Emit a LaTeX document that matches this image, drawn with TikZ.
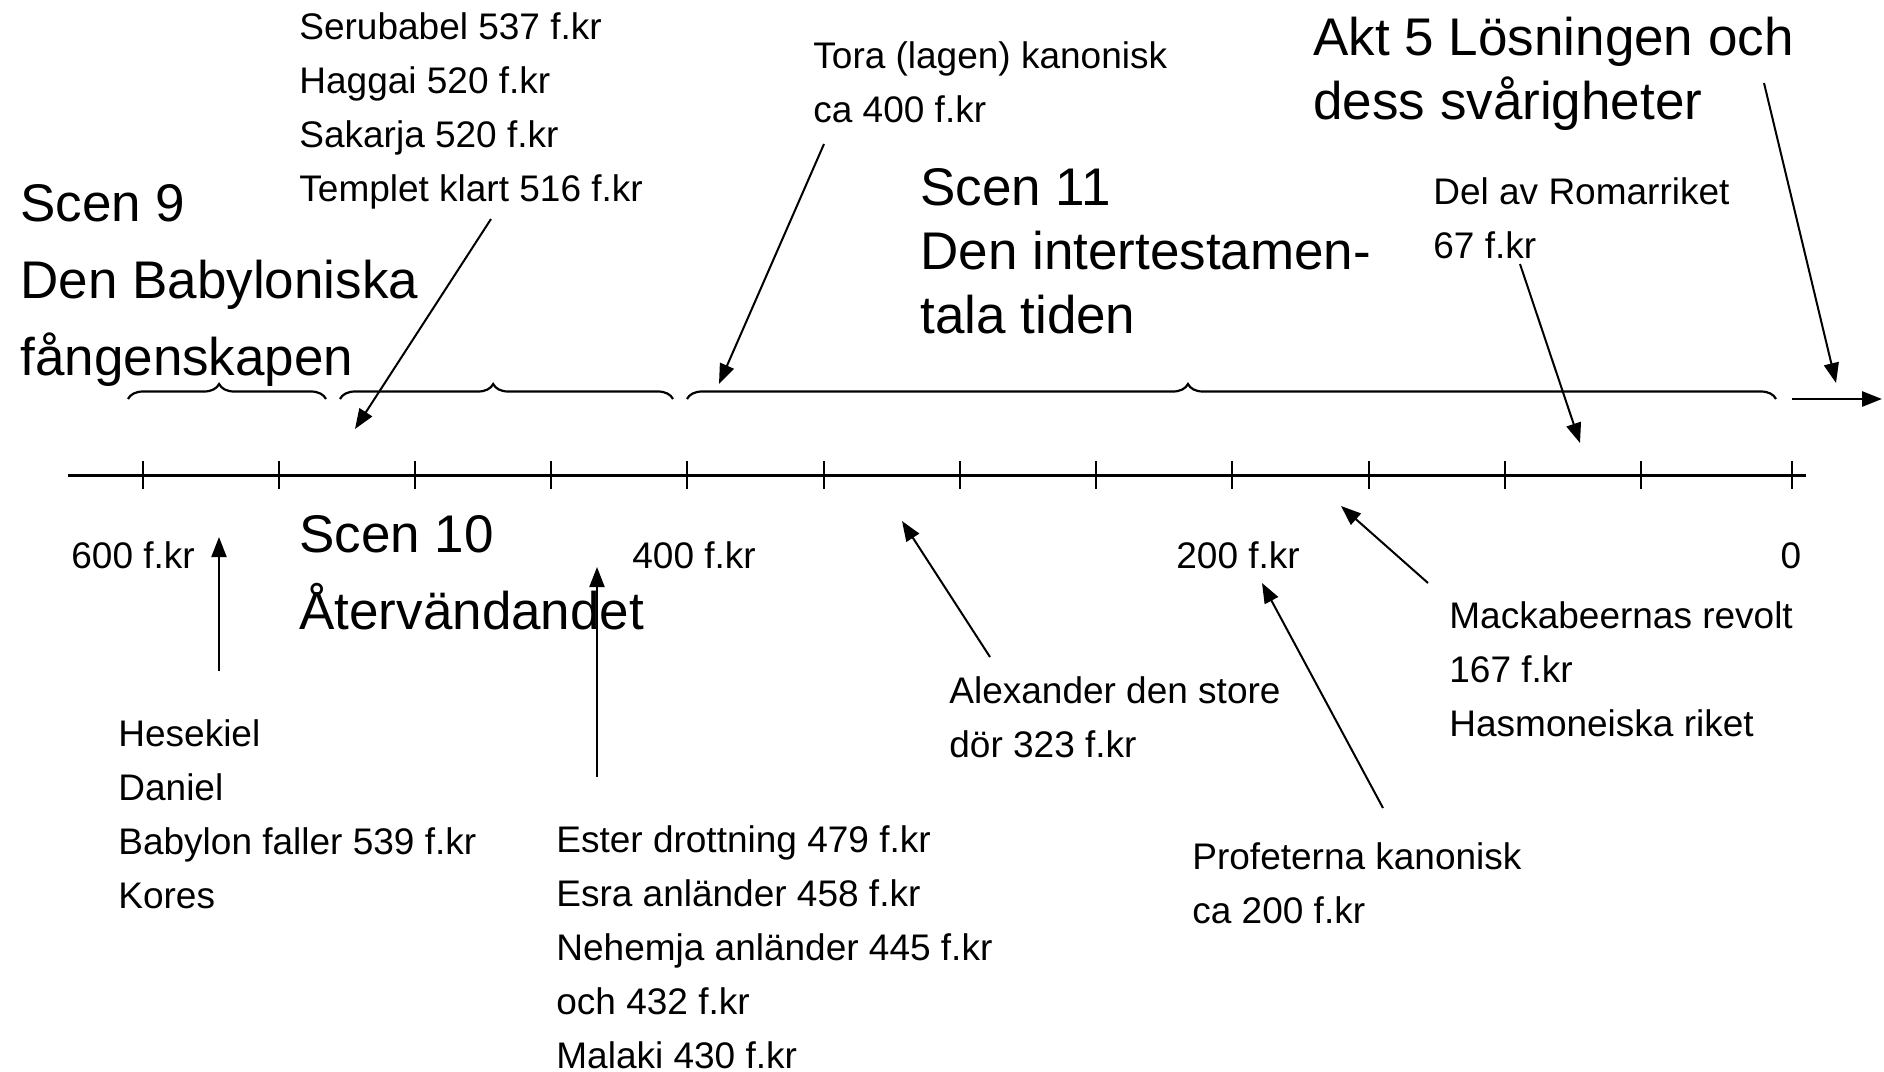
\documentclass[tikz,border=0pt]{standalone}
\usepackage{fontspec}
\setmainfont{Liberation Sans}
\usetikzlibrary{arrows.meta,decorations.pathreplacing}

\begin{document}
\begin{tikzpicture}[x=0.5pt,y=-0.5pt]
\useasboundingbox (0,0) rectangle (1884,1071);
% multi-line nodes: base anchor sits on the last line
\tikzstyle{small}=[font=\fontsize{18.5}{26.9}\selectfont,anchor=base west,align=left,inner sep=0pt]
\tikzstyle{big}=[font=\fontsize{26.5}{38.5}\selectfont,anchor=base west,align=left,inner sep=0pt]
\tikzstyle{bigtight}=[big,font=\fontsize{26.5}{32}\selectfont]
\tikzstyle{pointer}=[-{Triangle[length=10pt,width=7.5pt]},line width=1pt]
\tikzstyle{era}=[decorate,decoration={brace,amplitude=7.5pt,aspect=0.46},line width=1.1pt]

% time line
\coordinate (axL) at (68,475);
\coordinate (axR) at (1806,475);
\draw[line width=1.5pt] (axL) -- (axR);
\foreach \x in {143,279,415,551,687,824,960,1096,1232,1369,1505,1641,1792}
  \draw[line width=1pt] (\x,461) -- (\x,489);

\draw node[small] (y600) at (71,568) {600 f.kr};
\draw node[small] (y400) at (632,568) {400 f.kr};
\draw node[small] (y200) at (1176,568) {200 f.kr};
\draw node[small,anchor=base] (y0) at (1791,568) {0};

% scenes
\draw node[big] (scen9) at (20,375) {Scen 9\\Den Babyloniska\\fångenskapen};
\draw node[big] (scen10) at (299,629) {Scen 10\\Återvändandet};
\draw node[bigtight] (scen11) at (920,333) {Scen 11\\Den intertestamen-\\tala tiden};
\draw node[bigtight] (akt5) at (1313,119) {Akt 5 Lösningen och\\dess svårigheter};

\coordinate (b1L) at (128,399);  \coordinate (b1R) at (326,399);
\coordinate (b2L) at (340,399);  \coordinate (b2R) at (673,399);
\coordinate (b3L) at (687,399);  \coordinate (b3R) at (1776,399);
\draw[era] (b1L) -- (b1R);
\draw[era] (b2L) -- (b2R);
\draw[era] (b3L) -- (b3R);

% events
\draw node[small] (serub) at (299,201) {Serubabel 537 f.kr\\Haggai 520 f.kr\\Sakarja 520 f.kr\\Templet klart 516 f.kr};
\draw node[small] (tora) at (813,122) {Tora (lagen) kanonisk\\ca 400 f.kr};
\draw node[small] (rom) at (1433,258) {Del av Romarriket\\67 f.kr};
\draw node[small] (hes) at (118,908) {Hesekiel\\Daniel\\Babylon faller 539 f.kr\\Kores};
\draw node[small] (ester) at (556,1068) {Ester drottning 479 f.kr\\Esra anländer 458 f.kr\\Nehemja anländer 445 f.kr\\och 432 f.kr\\Malaki 430 f.kr};
\draw node[small] (alex) at (949,757) {Alexander den store\\dör 323 f.kr};
\draw node[small] (prof) at (1192,923) {Profeterna kanonisk\\ca 200 f.kr};
\draw node[small] (mack) at (1449,736) {Mackabeernas revolt\\167 f.kr\\Hasmoneiska riket};

% pointers
\coordinate (serubFrom) at (491,219);  \coordinate (serubTo) at (355,429);
\coordinate (toraFrom) at (824,144);   \coordinate (toraTo) at (719,384);
\coordinate (romFrom) at (1520,264);   \coordinate (romTo) at (1580,443);
\coordinate (aktFrom) at (1764,83);    \coordinate (aktTo) at (1836,383);
\coordinate (nextFrom) at (1792,399);  \coordinate (nextTo) at (1882,399);
\coordinate (hesFrom) at (219,671);    \coordinate (hesTo) at (219,537);
\coordinate (esterFrom) at (597,777);  \coordinate (esterTo) at (597,567);
\coordinate (alexFrom) at (990,657);   \coordinate (alexTo) at (902,521);
\coordinate (profFrom) at (1383,808);  \coordinate (profTo) at (1262,583);
\coordinate (mackFrom) at (1428,583);  \coordinate (mackTo) at (1341,506);
\draw[pointer] (serubFrom) -- (serubTo);
\draw[pointer] (toraFrom) -- (toraTo);
\draw[pointer] (romFrom) -- (romTo);
\draw[pointer] (aktFrom) -- (aktTo);
\draw[pointer,line width=1.4pt] (nextFrom) -- (nextTo);
\draw[pointer] (hesFrom) -- (hesTo);
\draw[pointer] (esterFrom) -- (esterTo);
\draw[pointer] (alexFrom) -- (alexTo);
\draw[pointer] (profFrom) -- (profTo);
\draw[pointer] (mackFrom) -- (mackTo);
\end{tikzpicture}
\end{document}
